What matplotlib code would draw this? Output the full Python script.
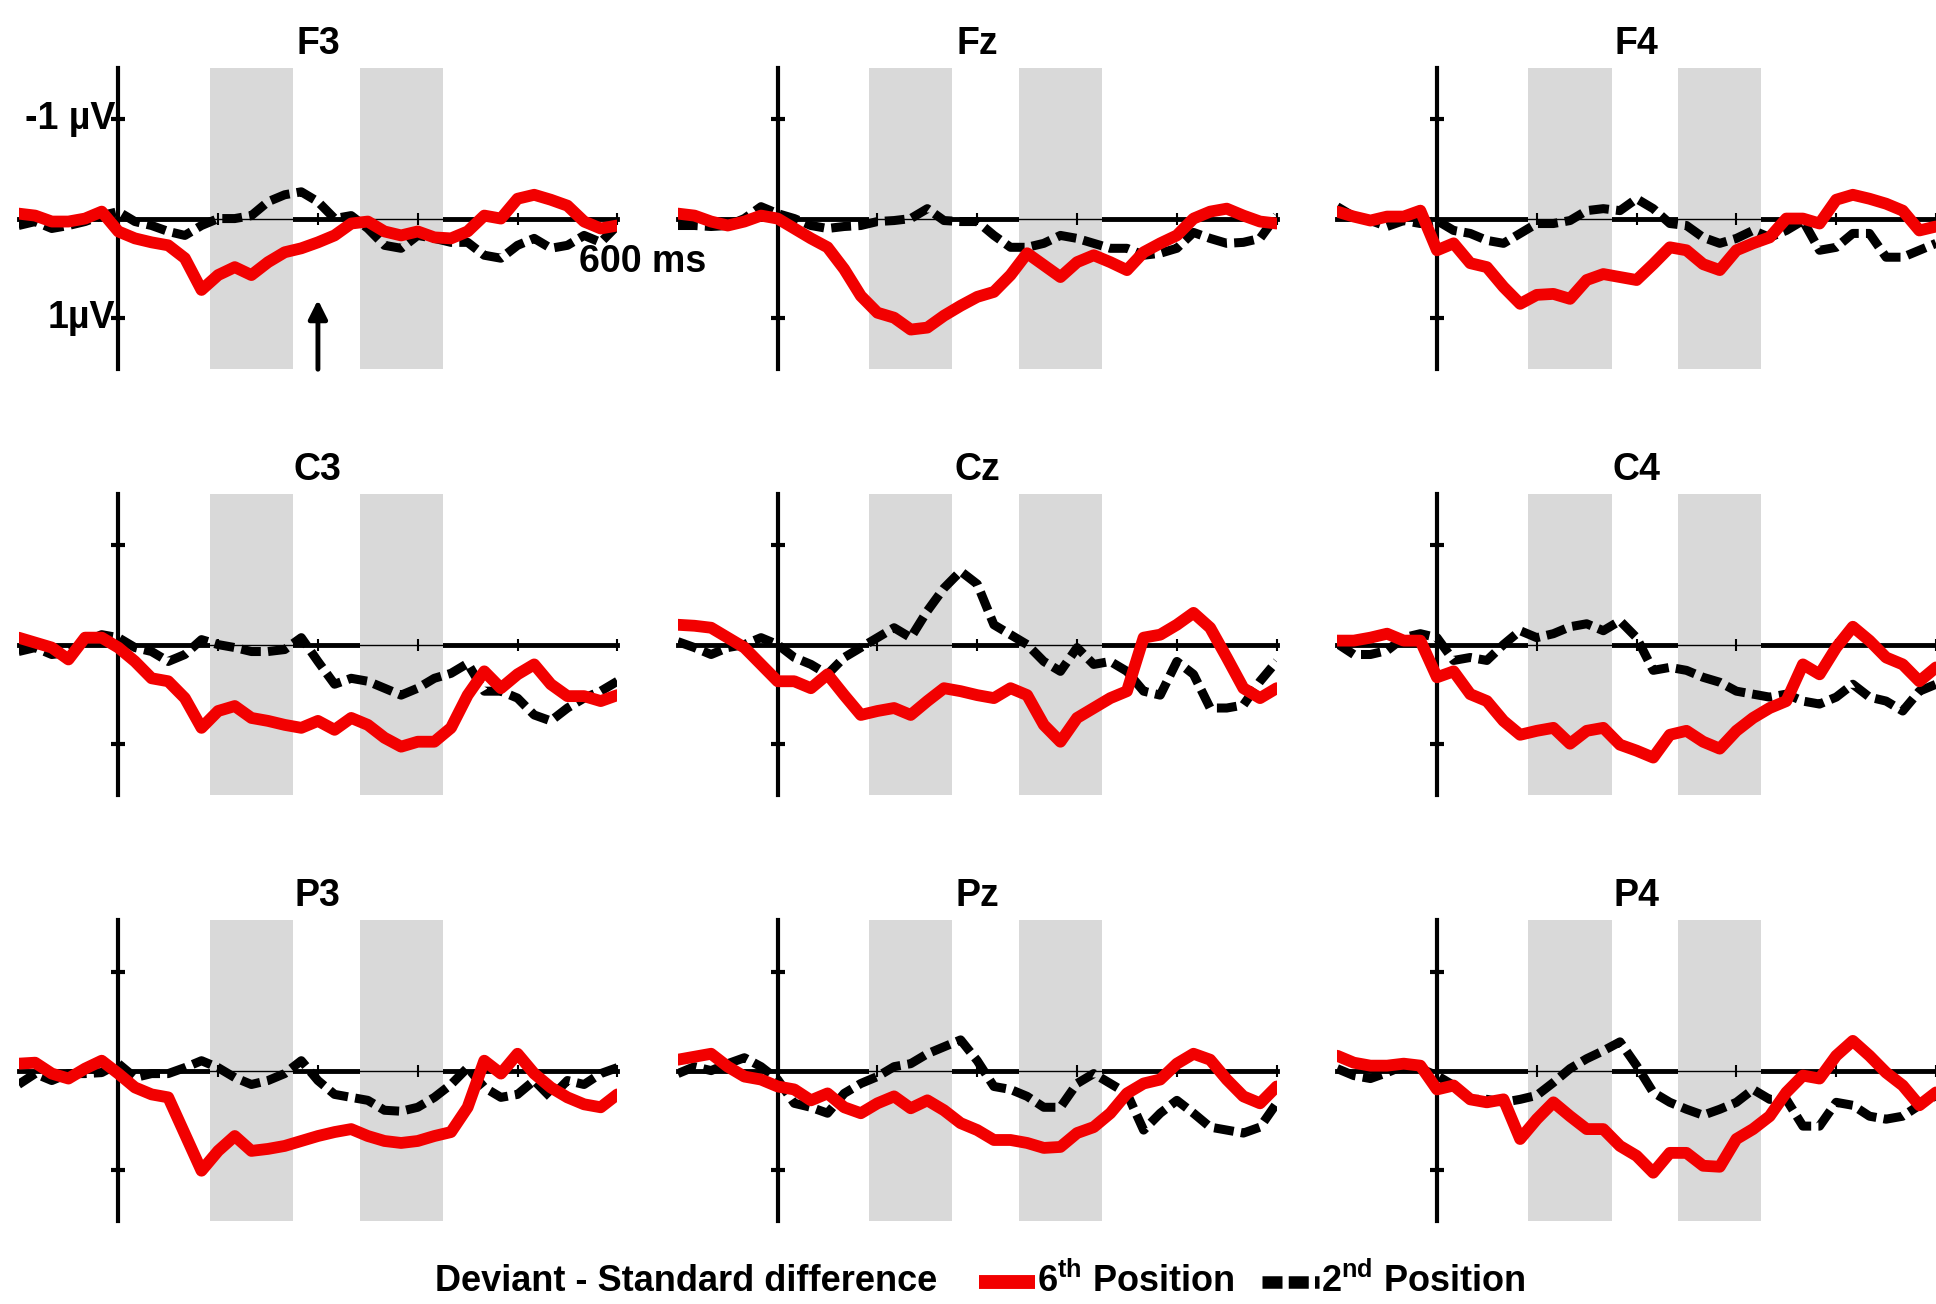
import matplotlib.pyplot as plt
from matplotlib.lines import Line2D

plt.rcParams['font.family'] = ['Liberation Sans', 'DejaVu Sans']
plt.rcParams['font.weight'] = 'bold'
plt.rcParams['mathtext.fontset'] = 'custom'
plt.rcParams['mathtext.rm'] = 'Liberation Sans:bold'
plt.rcParams['mathtext.bf'] = 'Liberation Sans:bold'

# time in ms, one value every 20 ms
times = list(range(-120, 601, 20))

# difference waves in microvolt (negative is drawn upwards)
f3_6th = [-0.05, -0.03, 0.03, 0.03, 0.00, -0.07, 0.13, 0.20, 0.24, 0.27, 0.40, 0.72, 0.57, 0.49, 0.57, 0.44, 0.34, 0.30, 0.24,
          0.17, 0.05, 0.03, 0.13, 0.17, 0.13, 0.19, 0.20, 0.13, -0.03, 0.00, -0.20, -0.24, -0.19, -0.13, 0.03, 0.10, 0.07]
f3_2nd = [0.07, 0.03, 0.10, 0.07, 0.03, -0.03, -0.07, 0.03, 0.07, 0.13, 0.17, 0.07, 0.00, 0.00, -0.03, -0.17, -0.24, -0.27, -0.17,
          0.00, -0.03, 0.10, 0.27, 0.30, 0.17, 0.20, 0.24, 0.24, 0.37, 0.40, 0.27, 0.20, 0.30, 0.27, 0.17, 0.24, 0.07]
fz_6th = [-0.05, -0.03, 0.03, 0.07, 0.03, -0.03, 0.00, 0.10, 0.20, 0.29, 0.51, 0.78, 0.95, 1.00, 1.12, 1.10, 0.98, 0.88, 0.79,
          0.74, 0.57, 0.35, 0.47, 0.59, 0.44, 0.37, 0.44, 0.52, 0.34, 0.25, 0.17, 0.00, -0.07, -0.10, -0.03, 0.03, 0.05]
fz_2nd = [0.07, 0.07, 0.08, 0.07, 0.00, -0.12, -0.05, 0.00, 0.07, 0.10, 0.08, 0.07, 0.03, 0.02, 0.00, -0.10, 0.02, 0.03, 0.03,
          0.17, 0.29, 0.29, 0.25, 0.17, 0.20, 0.25, 0.30, 0.30, 0.37, 0.35, 0.30, 0.14, 0.20, 0.25, 0.24, 0.20, -0.03]
f4_6th = [-0.07, -0.02, 0.02, -0.02, -0.02, -0.08, 0.32, 0.25, 0.45, 0.49, 0.69, 0.86, 0.77, 0.76, 0.81, 0.62, 0.56, 0.59, 0.62,
          0.46, 0.29, 0.32, 0.46, 0.52, 0.32, 0.25, 0.19, 0.00, 0.00, 0.05, -0.19, -0.24, -0.20, -0.15, -0.08, 0.12, 0.08]
f4_2nd = [-0.12, -0.02, 0.02, 0.08, 0.02, 0.05, 0.02, 0.12, 0.15, 0.22, 0.25, 0.15, 0.05, 0.05, 0.02, -0.08, -0.10, -0.08, -0.20,
          -0.10, 0.05, 0.07, 0.19, 0.25, 0.20, 0.12, 0.19, 0.12, 0.02, 0.32, 0.29, 0.15, 0.15, 0.39, 0.39, 0.32, 0.25]
c3_6th = [-0.07, -0.02, 0.03, 0.15, -0.07, -0.07, 0.03, 0.17, 0.34, 0.37, 0.54, 0.84, 0.67, 0.62, 0.74, 0.77, 0.81, 0.84, 0.77,
          0.86, 0.74, 0.81, 0.94, 1.03, 0.98, 0.98, 0.84, 0.51, 0.27, 0.44, 0.30, 0.20, 0.40, 0.52, 0.52, 0.57, 0.51]
c3_2nd = [0.07, 0.03, 0.10, 0.08, -0.03, -0.10, -0.07, 0.03, 0.07, 0.17, 0.10, -0.05, 0.00, 0.03, 0.07, 0.07, 0.05, -0.07, 0.17,
          0.40, 0.34, 0.37, 0.44, 0.51, 0.44, 0.34, 0.29, 0.19, 0.47, 0.47, 0.54, 0.71, 0.77, 0.64, 0.54, 0.47, 0.37]
cz_6th = [-0.20, -0.19, -0.17, -0.07, 0.03, 0.20, 0.37, 0.37, 0.44, 0.30, 0.51, 0.71, 0.67, 0.64, 0.71, 0.57, 0.44, 0.47, 0.51,
          0.54, 0.44, 0.51, 0.81, 0.98, 0.74, 0.64, 0.54, 0.47, -0.07, -0.10, -0.20, -0.32, -0.17, 0.13, 0.44, 0.54, 0.44]
cz_2nd = [-0.03, 0.03, 0.10, 0.03, 0.00, -0.07, 0.00, 0.13, 0.20, 0.30, 0.13, 0.03, -0.07, -0.17, -0.07, -0.34, -0.57, -0.74, -0.61,
          -0.20, -0.10, 0.00, 0.17, 0.27, 0.03, 0.20, 0.17, 0.27, 0.47, 0.51, 0.17, 0.30, 0.64, 0.64, 0.61, 0.37, 0.17]
c4_6th = [-0.04, -0.04, -0.07, -0.11, -0.04, -0.04, 0.33, 0.27, 0.50, 0.57, 0.77, 0.91, 0.87, 0.84, 1.00, 0.87, 0.84, 1.01, 1.07,
          1.14, 0.91, 0.87, 0.98, 1.05, 0.87, 0.74, 0.64, 0.57, 0.20, 0.30, 0.03, -0.18, -0.04, 0.13, 0.20, 0.37, 0.23]
c4_2nd = [-0.01, 0.10, 0.10, 0.06, -0.07, -0.11, -0.07, 0.16, 0.13, 0.16, 0.00, -0.14, -0.07, -0.11, -0.18, -0.21, -0.14, -0.24, -0.07,
          0.26, 0.23, 0.26, 0.33, 0.38, 0.47, 0.50, 0.53, 0.50, 0.57, 0.60, 0.53, 0.40, 0.53, 0.57, 0.67, 0.47, 0.40]
p3_6th = [-0.07, -0.08, 0.03, 0.08, -0.02, -0.10, 0.03, 0.17, 0.24, 0.27, 0.64, 1.01, 0.81, 0.66, 0.81, 0.79, 0.76, 0.71, 0.66,
          0.62, 0.59, 0.66, 0.71, 0.73, 0.71, 0.66, 0.62, 0.37, -0.10, 0.03, -0.17, 0.03, 0.17, 0.27, 0.34, 0.37, 0.24]
p3_2nd = [0.14, 0.03, 0.10, 0.03, 0.03, 0.02, -0.07, 0.07, 0.03, 0.03, -0.03, -0.10, -0.03, 0.07, 0.14, 0.10, 0.03, -0.10, 0.10,
          0.24, 0.27, 0.30, 0.40, 0.41, 0.37, 0.27, 0.14, -0.03, 0.17, 0.27, 0.24, 0.10, 0.27, 0.10, 0.14, 0.03, -0.03]
pz_6th = [-0.11, -0.14, -0.17, -0.04, 0.06, 0.09, 0.16, 0.19, 0.30, 0.23, 0.37, 0.43, 0.33, 0.26, 0.38, 0.30, 0.40, 0.53, 0.60,
          0.70, 0.70, 0.73, 0.78, 0.77, 0.63, 0.57, 0.43, 0.23, 0.13, 0.09, -0.07, -0.17, -0.11, 0.09, 0.26, 0.33, 0.16]
pz_2nd = [0.03, -0.04, 0.00, -0.07, -0.13, -0.04, 0.09, 0.33, 0.37, 0.43, 0.23, 0.13, 0.06, -0.04, -0.07, -0.17, -0.24, -0.31, -0.10,
          0.16, 0.19, 0.26, 0.37, 0.37, 0.13, 0.03, 0.13, 0.23, 0.60, 0.43, 0.30, 0.43, 0.57, 0.60, 0.63, 0.57, 0.33]
p4_6th = [-0.15, -0.08, -0.05, -0.05, -0.07, -0.05, 0.19, 0.15, 0.29, 0.32, 0.29, 0.69, 0.49, 0.32, 0.46, 0.59, 0.59, 0.76, 0.86,
          1.03, 0.83, 0.83, 0.96, 0.97, 0.69, 0.59, 0.46, 0.22, 0.05, 0.08, -0.15, -0.30, -0.15, 0.02, 0.15, 0.35, 0.22]
p4_2nd = [-0.02, 0.05, 0.08, 0.02, -0.05, -0.02, 0.05, 0.15, 0.29, 0.29, 0.32, 0.29, 0.25, 0.12, -0.02, -0.12, -0.20, -0.29, -0.05,
          0.22, 0.32, 0.39, 0.45, 0.39, 0.32, 0.19, 0.29, 0.29, 0.56, 0.56, 0.32, 0.35, 0.46, 0.49, 0.46, 0.35, 0.25]

electrodes = ['F3', 'Fz', 'F4', 'C3', 'Cz', 'C4', 'P3', 'Pz', 'P4']
sixth = [f3_6th, fz_6th, f4_6th, c3_6th, cz_6th, c4_6th, p3_6th, pz_6th, p4_6th]
second = [f3_2nd, fz_2nd, f4_2nd, c3_2nd, cz_2nd, c4_2nd, p3_2nd, pz_2nd, p4_2nd]
windows = [(110, 210), (290, 390)]
x_ticks = [120, 240, 360, 480, 600]

RED = '#f20000'
GREY = '#d9d9d9'

fig = plt.figure(figsize=(19.36, 13.04), dpi=100)

# layout measured on the 1568x1056 view
W, H = 1568.0, 1056.0
col_left = [15, 549, 1083]
row_zero = [177, 522, 867]
half = 122

for i, name in enumerate(electrodes):
    r, c = divmod(i, 3)
    ax = fig.add_axes([col_left[c] / W, 1 - (row_zero[r] + half) / H, 485 / W, 2 * half / H])
    ax.patch.set_visible(False)
    ax.set_xlim(-120, 600)
    ax.set_ylim(1.52, -1.52)

    for a, b in windows:
        ax.axvspan(a, b, color=GREY, lw=0, zorder=1)
    # thin zero line shows through the grey windows
    ax.axhline(0, color='black', lw=1, zorder=1.5)

    for side in ['top', 'right']:
        ax.spines[side].set_visible(False)
    ax.spines['left'].set_position(('data', 0))
    ax.spines['bottom'].set_position(('data', 0))
    ax.spines['left'].set_linewidth(3)
    ax.spines['bottom'].set_linewidth(3.5)
    ax.spines['bottom'].set_zorder(0.5)

    ax.set_xticks(x_ticks)
    ax.set_yticks([-1, 1])
    ax.tick_params(axis='x', direction='inout', length=8, width=1.5, labelbottom=False)
    ax.tick_params(axis='y', direction='inout', length=10, width=3, labelleft=False)

    ax.plot(times, second[i], color='black', lw=6.5, linestyle=(0, (2.2, 0.8)),
            dash_capstyle='butt', zorder=3)
    ax.plot(times, sixth[i], color=RED, lw=8.5, solid_joinstyle='round',
            solid_capstyle='round', zorder=4)

    ax.set_title(name, fontsize=27, fontweight='bold', pad=10)

    if name == 'F3':
        ax.text(-4, -1, '-1 µV', ha='right', va='center', fontsize=27, fontweight='bold')
        ax.text(-4, 1, '1µV', ha='right', va='center', fontsize=27, fontweight='bold')
        ax.text(554, 0.44, '600 ms', ha='left', va='center', fontsize=27,
                fontweight='bold', clip_on=False, zorder=6)
        ax.annotate('', xy=(240, 0.82), xytext=(240, 1.52),
                    arrowprops=dict(arrowstyle='-|>', color='black', lw=3.5,
                                    mutation_scale=28, shrinkA=0, shrinkB=0))

# legend row at the bottom
ly = 1 - 1038 / H
fig.text(352 / W, ly, 'Deviant - Standard difference', ha='left', va='center',
         fontsize=26, fontweight='bold')
fig.add_artist(Line2D([793 / W, 838 / W], [ly, ly], color=RED, lw=10,
                      solid_capstyle='butt', transform=fig.transFigure))
fig.text(840 / W, ly, r'6$^{\mathbf{th}}$ Position', ha='left', va='center',
         fontsize=26, fontweight='bold')
fig.add_artist(Line2D([1022 / W, 1068 / W], [ly, ly], color='black', lw=9,
                      linestyle=(0, (1.6, 0.5)), dash_capstyle='butt',
                      transform=fig.transFigure))
fig.text(1070 / W, ly, r'2$^{\mathbf{nd}}$ Position', ha='left', va='center',
         fontsize=26, fontweight='bold')

fig.savefig('out.png', dpi=100)
